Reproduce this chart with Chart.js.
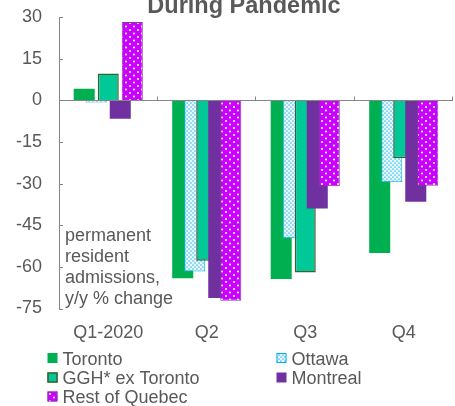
<!DOCTYPE html>
<html>
<head>
<meta charset="utf-8">
<script src="https://cdn.jsdelivr.net/npm/chart.js@4"></script>
<style>
  html, body { margin: 0; padding: 0; background: #fff; }
  #wrap { position: relative; width: 455px; height: 406px; overflow: hidden; }
  canvas { display: block; }
</style>
</head>
<body>
<div id="wrap"><canvas id="c" width="455" height="406"></canvas></div>
<script>
// Quarterly permanent resident admissions, y/y % change
const quarters = ['Q1-2020', 'Q2', 'Q3', 'Q4'];
const yTicks = [30, 15, 0, -15, -30, -45, -60, -75];

const toronto    = [4.2, -64.1, -64.4, -55.0];
const ottawa     = [-0.7, -61.7, -49.7, -29.5];
const ggh        = [9.7, -57.8, -62.0, -20.8];
const montreal   = [-6.6, -71.2, -38.9, -36.5];
const restQuebec = [28.3, -72.2, -30.9, -30.7];

const seriesNames = ['Toronto', 'Ottawa', 'GGH* ex Toronto', 'Montreal', 'Rest of Quebec'];
const noteLines = ['permanent', 'resident', 'admissions,', 'y/y % change'];
const titleText = 'During Pandemic';

const FONT = "'Liberation Sans', Arial, sans-serif";
const TEXT = '#595959';
const AXIS = '#868686';

// Dotted fills
function makePattern(w, h, bg, dots, dotColor, r) {
  const c = document.createElement('canvas');
  c.width = w; c.height = h;
  const g = c.getContext('2d');
  g.fillStyle = bg;
  g.fillRect(0, 0, w, h);
  g.fillStyle = dotColor;
  dots.forEach(([x, y]) => { g.beginPath(); g.arc(x, y, r, 0, Math.PI * 2); g.fill(); });
  return g.createPattern(c, 'repeat');
}
const ctx = document.getElementById('c').getContext('2d');
const ottawaFill = makePattern(4, 4, '#eaf8fe', [[1, 1], [3, 3]], '#3cc2f2', 0.85);
const roqFill = makePattern(8, 7, '#cc00ff', [[2, 2], [6, 5.5]], '#ffffff', 1.05);

const datasets = [
  { label: seriesNames[0], data: toronto, backgroundColor: '#00b050', borderWidth: 0 },
  { label: seriesNames[1], data: ottawa, backgroundColor: ottawaFill, borderColor: '#00b0f0', borderWidth: 1 },
  { label: seriesNames[2], data: ggh, backgroundColor: '#00c896', borderColor: '#3f5f2f', borderWidth: 1.5 },
  { label: seriesNames[3], data: montreal, backgroundColor: '#7030a0', borderWidth: 0 },
  { label: seriesNames[4], data: restQuebec, backgroundColor: roqFill, borderColor: '#8a3aa8', borderWidth: 1 }
];

// Later series are painted over earlier ones, so bars overlap left to right
const paintOrder = {
  id: 'paintOrder',
  beforeDatasetsDraw(chart) {
    chart.getSortedVisibleDatasetMetas().forEach(meta => chart._drawDataset(meta));
    return false;
  }
};

// Title, inward tick marks, note text and the two-column legend
const decorations = {
  id: 'decorations',
  afterDraw(chart) {
    const g = chart.ctx;
    const area = chart.chartArea;
    const y = chart.scales.y;
    g.save();

    // title
    g.fillStyle = TEXT;
    g.font = 'bold 23.5px ' + FONT;
    g.textAlign = 'center';
    g.textBaseline = 'alphabetic';
    g.fillText(titleText, 244, 12.5);

    // y ticks pointing into the plot
    g.strokeStyle = AXIS;
    g.lineWidth = 1;
    yTicks.forEach(v => {
      const py = Math.round(y.getPixelForValue(v)) + 0.5;
      g.beginPath(); g.moveTo(area.left, py); g.lineTo(area.left + 4, py); g.stroke();
    });
    // category boundary ticks on the zero line
    const zero = Math.round(y.getPixelForValue(0)) + 0.5;
    const step = (area.right - area.left) / quarters.length;
    for (let i = 1; i <= quarters.length; i++) {
      const px = Math.round(area.left + step * i) - 0.5;
      g.beginPath(); g.moveTo(px, zero); g.lineTo(px, zero - 4); g.stroke();
    }

    // note inside the plot
    g.fillStyle = TEXT;
    g.font = '18px ' + FONT;
    g.textAlign = 'left';
    noteLines.forEach((t, i) => g.fillText(t, area.left + 6, 240.5 + i * 21.2));

    // legend
    const cols = [47.5, 276.5];
    const rows = [358, 377.5, 396.5];
    chart.data.datasets.forEach((ds, i) => {
      const bx = cols[i % 2];
      const cy = rows[Math.floor(i / 2)];
      const s = 10;
      g.fillStyle = ds.backgroundColor;
      g.fillRect(bx, cy - s / 2, s, s);
      if (ds.borderWidth) {
        g.strokeStyle = ds.borderColor;
        g.lineWidth = ds.borderWidth;
        g.strokeRect(bx + 0.5, cy - s / 2 + 0.5, s - 1, s - 1);
      }
      g.fillStyle = TEXT;
      g.font = '18px ' + FONT;
      g.textBaseline = 'alphabetic';
      g.fillText(ds.label, bx + 15, cy + 6.8);
    });
    g.restore();
  }
};

new Chart(ctx, {
  type: 'bar',
  data: { labels: quarters, datasets },
  plugins: [paintOrder, decorations],
  options: {
    responsive: false,
    animation: false,
    events: [],
    categoryPercentage: 0.61,
    barPercentage: 1.75,
    layout: { padding: { top: 17.3, right: 2, bottom: 63.5, left: 0 } },
    plugins: { legend: { display: false }, title: { display: false }, tooltip: { enabled: false } },
    scales: {
      x: {
        grid: { display: false, drawTicks: false },
        border: { display: false },
        ticks: { color: TEXT, font: { family: FONT, size: 18 }, padding: 14, maxRotation: 0 },
        afterFit(s) { s.height = 34; s.paddingLeft = 0; s.paddingRight = 0; }
      },
      y: {
        min: -75, max: 30,
        afterBuildTicks(s) { s.ticks = yTicks.map(v => ({ value: v })); },
        grid: {
          drawTicks: false,
          color: c => (c.tick && c.tick.value === 0 ? AXIS : 'transparent'),
          lineWidth: 1
        },
        border: { display: true, color: AXIS, width: 1 },
        ticks: { color: TEXT, font: { family: FONT, size: 18 }, padding: 17 },
        afterFit(s) { s.width = 59; s.paddingTop = 0; s.paddingBottom = 0; }
      }
    }
  }
});
</script>
</body>
</html>
